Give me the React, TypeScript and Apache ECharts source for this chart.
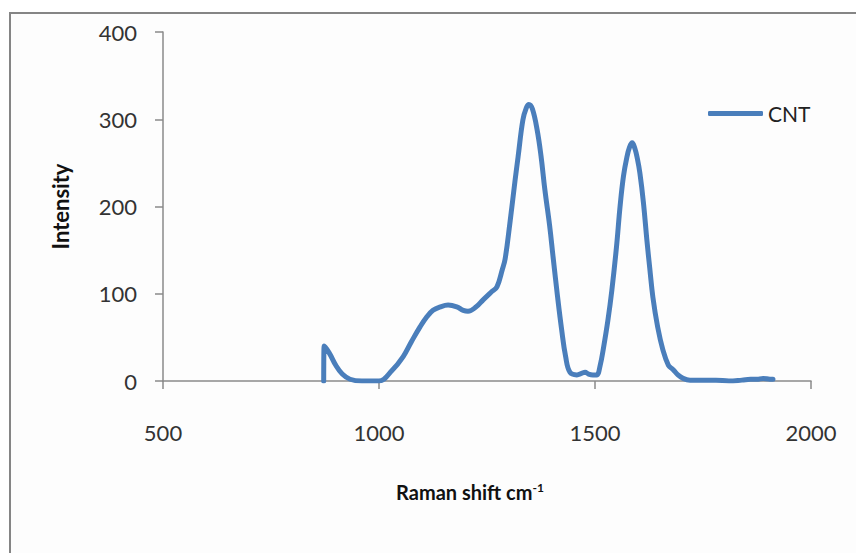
import React, { useEffect, useRef } from "react";
import * as echarts from "echarts";

const ramanShift: number[] = [
  872, 873, 885, 900, 915, 933, 960, 1000, 1030, 1056, 1075, 1095, 1110, 1125, 1142, 1160,
  1180, 1195, 1206, 1225, 1241, 1260, 1273, 1285, 1292, 1303, 1315, 1322, 1333, 1341, 1347,
  1355, 1366, 1375, 1384, 1395, 1403, 1413, 1423, 1432, 1442, 1458, 1470, 1477, 1485, 1495,
  1504, 1512, 1519, 1530, 1539, 1550, 1558, 1566, 1574, 1580, 1586, 1592, 1598, 1604, 1612,
  1620, 1627, 1634, 1645, 1657, 1670, 1681, 1692, 1704, 1720, 1750, 1780, 1810, 1840, 1860,
  1875, 1889, 1905, 1912,
];
const intensity: number[] = [
  0, 40, 32, 18, 8, 2, 0, 0, 12, 28, 45, 62, 73, 81, 85, 87,
  85, 81, 80, 85, 93, 102, 108, 127, 140, 181, 230, 257, 299, 313, 317,
  312, 288, 258, 219, 178, 142, 98, 58, 28, 10, 7, 9, 10, 8, 7,
  7, 18, 36, 70, 104, 155, 200, 235, 257, 268, 273, 267, 255, 238, 205,
  162, 128, 96, 62, 36, 18, 13, 7, 3, 1, 1, 1, 0, 1, 2,
  2, 3, 2, 2,
];
const seriesName = "CNT";
const xTitle = "Raman shift cm";
const xTitleSup = "-1";
const yTitle = "Intensity";

export default function App() {
  const ref = useRef<HTMLDivElement>(null);
  useEffect(() => {
    if (!ref.current) return;
    const chart = echarts.init(ref.current, undefined, { renderer: "svg" });
    const font = "Lato, 'Open Sans', sans-serif";
    chart.setOption({
      animation: false,
      backgroundColor: "#ffffff",
      graphic: [
        {
          type: "rect",
          z: -10,
          shape: { x: 10, y: 13, width: 900, height: 600 },
          style: { fill: "#fdfdfd", stroke: "#858585", lineWidth: 2 },
        },
      ],
      grid: { left: 163, right: 45, top: 32, bottom: 172 },
      legend: {
        data: [seriesName],
        left: 708,
        top: 103,
        padding: 0,
        icon: "roundRect",
        itemWidth: 55,
        itemHeight: 5,
        itemGap: 5,
        textStyle: { fontFamily: font, fontSize: 21, color: "#222" },
      },
      xAxis: {
        type: "value",
        min: 500,
        max: 2000,
        interval: 500,
        name: `${xTitle}{sup|${xTitleSup}}`,
        nameLocation: "middle",
        nameGap: 100,
        nameTextStyle: {
          fontFamily: font,
          fontSize: 20,
          fontWeight: "bold",
          color: "#111",
          padding: [0, 34, 0, 0],
          rich: {
            sup: { fontFamily: font, fontSize: 12, fontWeight: "bold", color: "#111", verticalAlign: "top", padding: [0, 0, 9, 0] },
          },
        },
        axisLine: { lineStyle: { color: "#8a8a8a", width: 1.5 } },
        axisTick: { show: true, length: 8, lineStyle: { color: "#8a8a8a", width: 1.5 } },
        axisLabel: { margin: 40, fontFamily: font, fontSize: 22, color: "#333", formatter: (v: number) => String(v) },
        splitLine: { show: false },
      },
      yAxis: {
        type: "value",
        min: 0,
        max: 400,
        interval: 100,
        name: yTitle,
        nameLocation: "middle",
        nameGap: 92,
        nameTextStyle: { fontFamily: font, fontSize: 22, fontWeight: "bold", color: "#111" },
        axisLine: { show: true, lineStyle: { color: "#8a8a8a", width: 1.5 } },
        axisTick: { show: true, length: 8, lineStyle: { color: "#8a8a8a", width: 1.5 } },
        axisLabel: { margin: 26, fontFamily: font, fontSize: 22, color: "#333", formatter: (v: number) => String(v) },
        splitLine: { show: false },
      },
      series: [
        {
          name: seriesName,
          type: "line",
          data: ramanShift.map((x, i) => [x, intensity[i]]),
          showSymbol: false,
          smooth: 0.4,
          lineStyle: { color: "#4a7ebb", width: 5, cap: "round", join: "round" },
          itemStyle: { color: "#4a7ebb" },
        },
      ],
    });
    return () => chart.dispose();
  }, []);
  return <div ref={ref} style={{ position: "fixed", left: 0, top: 0, width: 856, height: 553 }} />;
}
